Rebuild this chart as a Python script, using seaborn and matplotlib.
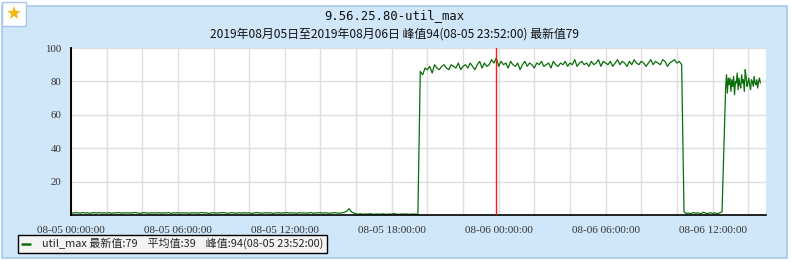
import numpy as np
import pandas as pd
import matplotlib
matplotlib.use("Agg")
import matplotlib.pyplot as plt
import matplotlib.dates as mdates
from matplotlib.patches import Rectangle
from matplotlib.lines import Line2D
from matplotlib.ticker import FuncFormatter, MultipleLocator
import seaborn as sns

# ---------------- data ----------------
title = "9.56.25.80-util_max"
subtitle = "2019年08月05日至2019年08月06日 峰值94(08-05 23:52:00) 最新值79"
legend_label = "util_max 最新值:79    平均值:39    峰值:94(08-05 23:52:00)"
series_name = "util_max"

seg1_start = "2019-08-05 00:00"
seg1_step = "8min"
seg1_low = [1.3,1.2,1.4,1.3,1.1,1.5,1.2,1.3,1.0,1.4,1.3,1.2,
            1.5,1.1,1.3,1.2,1.4,1.0,1.3,1.2,1.5,1.1,1.3,1.2,
            1.4,1.1,1.3,1.5,1.2,1.0,1.3,1.4,1.2,1.1,1.3,1.2,
            1.2,1.4,1.1,1.3,1.2,1.5,1.0,1.3,1.2,1.4,1.1,1.3,
            1.3,1.2,1.0,1.4,1.2,1.3,1.1,1.5,1.2,1.3,1.0,1.2,
            1.4,1.1,1.3,1.2,1.5,1.2,1.0,1.3,1.4,1.1,1.2,1.3,
            1.1,1.4,1.2,1.3,1.0,1.2,1.5,1.3,1.1,1.2,1.4,1.2,
            1.3,1.0,1.2,1.4,1.1,1.3,1.2,1.5,1.1,1.3,1.2,1.0,
            1.4,1.2,1.3,1.1,1.2,1.5,1.0,1.3,1.2,1.4,1.1,1.3,
            1.2,1.0,1.3,1.4,1.2,1.1,1.3,1.6,2.2,3.8,1.9,1.2,
            0.6,0.5,0.7,0.4,0.6,0.5,0.8,0.4,0.5,0.6,0.4,0.7,
            0.5,0.4,0.6,0.5,0.9,0.5,0.4,0.6,0.5,0.7,0.4,0.5,0.6,0.5,0.4]
seg1_high = [86,84,88,87,89,85,90,88,87,89,90,88,
             87,90,89,88,91,87,89,90,88,91,89,87,
             90,92,88,91,89,90,93,91,94,89,92,90,
             91,88,92,90,89,91,87,90,92,89,91,90,
             88,91,90,92,89,90,91,88,92,90,89,91,
             90,92,89,91,90,93,89,91,92,90,91,89,
             92,90,91,93,89,92,91,90,92,89,91,93,
             90,92,91,89,92,90,93,91,90,92,91,89,
             91,93,90,92,91,90,93,92,89,91,92,93,
             91,92,90]
seg1_low2 = [1.8,0.9,1.2,0.8,1.5,1.0,1.3,0.7,1.6,1.1,0.9,1.4,1.0,1.2,0.8,1.3,1.9]

seg2_start = "2019-08-06 12:44"
seg2_step = "3min"
seg2_values = [76,84,73,82,78,82,74,81,77,83,
               72,80,79,85,75,82,78,76,84,79,
               81,74,87,83,77,79,82,78,75,81,
               80,77,83,79,78,81,76,80,82,79]

peak_time = "2019-08-05 23:52"
x_start = "2019-08-05 00:00"
x_end = "2019-08-06 15:00"
y_ticks = [20, 40, 60, 80, 100]

# ---------------- frame ----------------
seg1_values = seg1_low + seg1_high + seg1_low2
df1 = pd.DataFrame({"time": pd.date_range(seg1_start, periods=len(seg1_values), freq=seg1_step),
                    "util": seg1_values})
df2 = pd.DataFrame({"time": pd.date_range(seg2_start, periods=len(seg2_values), freq=seg2_step),
                    "util": seg2_values})
df = pd.concat([df1, df2], ignore_index=True)

sns.set_style("white")
plt.rcParams["font.family"] = ["Noto Sans CJK SC", "DejaVu Sans"]

W, H = 791, 262
fig = plt.figure(figsize=(W / 100, H / 100), dpi=100, facecolor="white")

def fx(px):
    return px / W

def fy(py):
    return 1 - py / H

# panel background
fig.patches.append(Rectangle((fx(2), fy(258)), fx(785), (258 - 6) / H,
                             transform=fig.transFigure, facecolor="#d0e6f9",
                             edgecolor="#a7c6ec", linewidth=1.2, zorder=-3))
fig.patches.append(Rectangle((fx(2), fy(26)), fx(24), 24 / H,
                             transform=fig.transFigure, facecolor="white",
                             edgecolor="#a7c6ec", linewidth=1.0, zorder=-2))
fig.text(fx(14), fy(13.5), "★", ha="center", va="center", fontsize=13,
         color="#f5b50a", family=["DejaVu Sans"], zorder=3)

ax = fig.add_axes([fx(71), fy(215), fx(766 - 71), (215 - 48) / H])
ax.set_zorder(2)
ax.set_facecolor("white")

sns.lineplot(data=df, x="time", y="util", ax=ax, color="#0a6e0a", linewidth=0.9)
ax.axvline(pd.Timestamp(peak_time), color="#ff1a1a", linewidth=1.0, zorder=3)

ax.set_xlim(pd.Timestamp(x_start), pd.Timestamp(x_end))
ax.set_ylim(0, 100)
ax.set_xlabel("")
ax.set_ylabel("")

ax.xaxis.set_major_locator(mdates.HourLocator(byhour=range(0, 24, 2)))
def xfmt(v, pos):
    d = mdates.num2date(v)
    return d.strftime("%m-%d %H:%M:%S") if d.hour % 6 == 0 else ""
ax.xaxis.set_major_formatter(FuncFormatter(xfmt))
ax.set_yticks(y_ticks)
ax.yaxis.set_minor_locator(MultipleLocator(10))

ax.grid(True, which="major", color="#dedede", linewidth=1.0)
ax.set_axisbelow(True)
for s in ["top", "right"]:
    ax.spines[s].set_visible(False)
ax.spines["left"].set_color("black")
ax.spines["left"].set_linewidth(1.4)
ax.spines["bottom"].set_color("black")
ax.spines["bottom"].set_linewidth(1.2)

ax.tick_params(axis="x", direction="in", length=4, width=1, color="black",
               pad=8, labelsize=8, labelcolor="#333333")
ax.tick_params(axis="y", which="major", direction="out", length=4, width=1,
               color="black", pad=3, labelsize=7.8, labelcolor="#333333")
ax.tick_params(axis="y", which="minor", direction="out", length=2, width=0.8,
               color="black")
for lab in ax.get_xticklabels() + ax.get_yticklabels():
    lab.set_family(["Liberation Serif"])

fig.text(fx(394), fy(16), title, ha="center", va="center", fontsize=8.8,
         family=["DejaVu Sans Mono"], color="#111111")
fig.text(fx(395), fy(34), subtitle, ha="center", va="center", fontsize=8.6,
         color="#111111")

handle = Line2D([], [], color="#0a6e0a", linewidth=1.8)
leg = ax.legend([handle], [legend_label], loc="lower left",
                bbox_to_anchor=(fx(18), fy(253)), bbox_transform=fig.transFigure,
                frameon=True, fancybox=False, edgecolor="black", facecolor="#f4f4f4",
                fontsize=7.9, handlelength=0.8, handletextpad=1.1, borderpad=0.32,
                borderaxespad=0)
leg.get_frame().set_linewidth(1.0)
leg.get_frame().set_alpha(1)

fig.savefig("out.png", dpi=100, facecolor="white")
